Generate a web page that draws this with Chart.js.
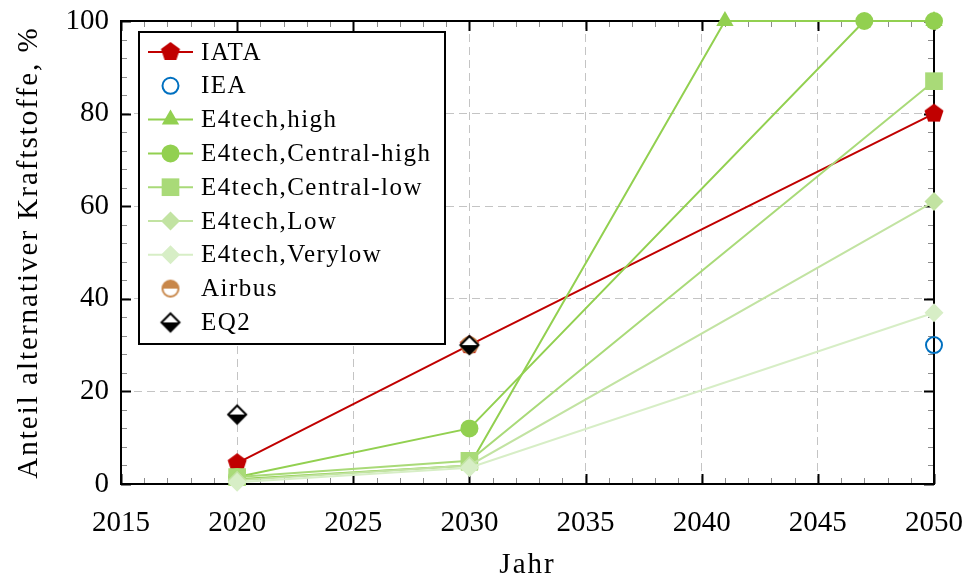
<!DOCTYPE html>
<html>
<head>
<meta charset="utf-8">
<script src="https://cdn.jsdelivr.net/npm/chart.js@4.4.1/dist/chart.umd.min.js"></script>
<style>
  html, body { margin: 0; background: #fff; }
  #wrap { position: relative; width: 968px; height: 581px; }
</style>
</head>
<body>
<div id="wrap"><canvas id="chart"></canvas></div>
<script>
// Anteil alternativer Kraftstoffe je Szenario (in %)
var YEARS           = [2020, 2030, 2041, 2047, 2050];
var IATA            = [4.5,  30,   null, null, 80];
var IEA             = [null, null, null, null, 30];
var E4_HIGH         = [1,    4,    100,  null, 100];
var E4_CENTRAL_HIGH = [1.5,  12,   null, 100,  100];
var E4_CENTRAL_LOW  = [1.5,  5,    null, null, 87];
var E4_LOW          = [0.8,  4,    null, null, 61];
var E4_VERYLOW      = [0.4,  3.5,  null, null, 37];
var AIRBUS          = [null, 30,   null, null, null];
var EQ2             = [15,   30,   null, null, null];

var X_TITLE = 'Jahr';
var Y_TITLE = 'Anteil alternativer Kraftstoffe, %';

var SERIF = '"Liberation Serif", "DejaVu Serif", serif';

// small canvases used as point styles for the marks Chart.js has no shape for
function markCanvas(draw) {
  var c = document.createElement('canvas');
  c.width = 28; c.height = 28;
  var g = c.getContext('2d');
  g.translate(14, 14);
  draw(g);
  return c;
}

var PENTAGON = markCanvas(function(g) {
  g.beginPath();
  for (var i = 0; i < 5; i++) {
    var a = -Math.PI / 2 + i * 2 * Math.PI / 5;
    g.lineTo(10 * Math.cos(a), 10 * Math.sin(a));
  }
  g.closePath();
  g.fillStyle = '#C00000';
  g.fill();
});

var HALF_CIRCLE = markCanvas(function(g) {
  var r = 8;
  g.fillStyle = '#fff';
  g.beginPath(); g.arc(0, 0, r, 0, 2 * Math.PI); g.fill();
  g.fillStyle = '#C8874A';
  g.beginPath(); g.arc(0, 0, r, Math.PI, 2 * Math.PI); g.closePath(); g.fill();
  g.strokeStyle = '#C8874A'; g.lineWidth = 2;
  g.beginPath(); g.arc(0, 0, r, 0, 2 * Math.PI); g.stroke();
});

var HALF_DIAMOND = markCanvas(function(g) {
  var r = 9;
  g.fillStyle = '#fff';
  g.beginPath(); g.moveTo(0, -r); g.lineTo(r, 0); g.lineTo(-r, 0); g.closePath(); g.fill();
  g.fillStyle = '#000';
  g.beginPath(); g.moveTo(-r, 0); g.lineTo(r, 0); g.lineTo(0, r); g.closePath(); g.fill();
  g.strokeStyle = '#000'; g.lineWidth = 2; g.lineJoin = 'miter';
  g.beginPath(); g.moveTo(0, -r); g.lineTo(r, 0); g.lineTo(0, r); g.lineTo(-r, 0); g.closePath(); g.stroke();
});

var SERIES = [
  { label: 'IATA',                values: IATA,            color: '#C00000', style: PENTAGON,     radius: 10, line: true },
  { label: 'IEA',                 values: IEA,             color: '#0070C0', style: 'circle',     radius: 8,  line: false, open: true },
  { label: 'E4tech,high',         values: E4_HIGH,         color: '#92D050', style: 'triangle',   radius: 10, line: true },
  { label: 'E4tech,Central-high', values: E4_CENTRAL_HIGH, color: '#92D050', style: 'circle',     radius: 9,  line: true },
  { label: 'E4tech,Central-low',  values: E4_CENTRAL_LOW,  color: '#A9DA78', style: 'rect',       radius: 12.5, line: true },
  { label: 'E4tech,Low',          values: E4_LOW,          color: '#C2E3A2', style: 'rectRot',    radius: 9.5, line: true },
  { label: 'E4tech,Verylow',      values: E4_VERYLOW,      color: '#D7EEC6', style: 'rectRot',    radius: 9.5, line: true },
  { label: 'Airbus',              values: AIRBUS,          color: '#C8874A', style: HALF_CIRCLE,  radius: 9,  line: false },
  { label: 'EQ2',                 values: EQ2,             color: '#000000', style: HALF_DIAMOND, radius: 9,  line: false }
];

var datasets = SERIES.map(function(s, i) {
  return {
    label: s.label,
    data: YEARS.map(function(x, k) { return { x: x, y: s.values[k] }; })
               .filter(function(p) { return p.y !== null; }),
    borderColor: s.color,
    backgroundColor: s.color,
    borderWidth: 2,
    showLine: s.line,
    pointStyle: s.style,
    pointRadius: s.radius,
    pointBackgroundColor: s.open ? 'rgba(0,0,0,0)' : s.color,
    pointBorderColor: s.color,
    pointBorderWidth: s.open ? 2 : 0,
    tension: 0,
    clip: false,
    order: SERIES.length - i   // later series sit on top
  };
});

// inward ticks on all four sides, the frame, axis titles and the boxed legend
var framePlugin = {
  id: 'frame',
  beforeDatasetsDraw: function(chart) {
    var ctx = chart.ctx, a = chart.chartArea;
    var xs = chart.scales.x, ys = chart.scales.y;
    ctx.save();
    for (var yr = 2015; yr <= 2050; yr++) {
      var major = yr % 5 === 0;
      var px = Math.round(xs.getPixelForValue(yr)) + 0.5;
      var len = major ? 10 : 6;
      ctx.strokeStyle = major ? '#000' : '#8c8c8c';
      ctx.lineWidth = major ? 2 : 1;
      ctx.beginPath();
      ctx.moveTo(px, a.bottom); ctx.lineTo(px, a.bottom - len);
      ctx.moveTo(px, a.top); ctx.lineTo(px, a.top + len);
      ctx.stroke();
    }
    for (var v = 0; v <= 100; v += 4) {
      var maj = v % 20 === 0;
      var py = Math.round(ys.getPixelForValue(v)) + 0.5;
      var l = maj ? 10 : 6;
      ctx.strokeStyle = maj ? '#000' : '#8c8c8c';
      ctx.lineWidth = maj ? 2 : 1;
      ctx.beginPath();
      ctx.moveTo(a.left, py); ctx.lineTo(a.left + l, py);
      ctx.moveTo(a.right, py); ctx.lineTo(a.right - l, py);
      ctx.stroke();
    }
    ctx.strokeStyle = '#000';
    ctx.lineWidth = 2;
    ctx.strokeRect(a.left, a.top, a.right - a.left, a.bottom - a.top);

    // axis titles
    ctx.fillStyle = '#000';
    ctx.font = '29px ' + SERIF;
    ctx.letterSpacing = '2px';
    ctx.textAlign = 'center';
    ctx.textBaseline = 'middle';
    ctx.fillText(X_TITLE, (a.left + a.right) / 2, 565);
    ctx.translate(29, (a.top + a.bottom) / 2);
    ctx.rotate(-Math.PI / 2);
    ctx.fillText(Y_TITLE, 0, 0);
    ctx.restore();
  },
  afterDatasetsDraw: function(chart) {
    var ctx = chart.ctx;
    var bx = 139, by = 32, bw = 306, bh = 312, step = 33.8;
    ctx.save();
    ctx.fillStyle = '#fff';
    ctx.fillRect(bx, by, bw, bh);
    ctx.strokeStyle = '#000';
    ctx.lineWidth = 2;
    ctx.strokeRect(bx, by, bw, bh);
    ctx.font = '25px ' + SERIF;
    ctx.letterSpacing = '1.5px';
    ctx.textBaseline = 'middle';
    chart.data.datasets.forEach(function(ds, i) {
      var cy = by + 20 + i * step;
      if (ds.showLine) {
        ctx.strokeStyle = ds.borderColor;
        ctx.lineWidth = 2;
        ctx.beginPath(); ctx.moveTo(148, cy); ctx.lineTo(193, cy); ctx.stroke();
      }
      ctx.fillStyle = ds.pointBackgroundColor;
      ctx.strokeStyle = ds.pointBorderColor;
      ctx.lineWidth = ds.pointBorderWidth;
      Chart.helpers.drawPoint(ctx, {
        pointStyle: ds.pointStyle, radius: ds.pointRadius, rotation: 0, borderWidth: ds.pointBorderWidth
      }, 170.5, cy);
      ctx.fillStyle = '#000';
      ctx.fillText(ds.label, 201, cy + 1);
    });
    ctx.restore();
  }
};

function innerGrid(min, max) {
  return function(c) {
    var v = c.tick.value;
    return (v === min || v === max) ? 'rgba(0,0,0,0)' : '#c4c4c4';
  };
}

// fixed axis boxes, with no extra room reserved for overhanging end labels
function fixBox(w, h) {
  return function(s) {
    if (w) s.width = w;
    if (h) s.height = h;
    s.paddingLeft = s.paddingRight = s.paddingTop = s.paddingBottom = 0;
  };
}

new Chart(document.getElementById('chart'), {
  type: 'line',
  data: { datasets: datasets },
  plugins: [framePlugin],
  options: {
    responsive: true,
    maintainAspectRatio: false,
    animation: false,
    layout: { padding: { top: 21, right: 34, left: 0, bottom: 0 } },
    plugins: { legend: { display: false }, tooltip: { enabled: false } },
    scales: {
      x: {
        type: 'linear',
        min: 2015, max: 2050,
        afterFit: fixBox(0, 97),
        ticks: { stepSize: 5, color: '#000', padding: 22, font: { family: SERIF, size: 29 },
                 callback: function(v) { return String(v); } },
        grid: { color: innerGrid(2015, 2050), lineWidth: 1, drawTicks: false },
        border: { display: false, dash: [8, 5] }
      },
      y: {
        min: 0, max: 100,
        afterFit: fixBox(121, 0),
        ticks: { stepSize: 20, color: '#000', padding: 12, font: { family: SERIF, size: 29 } },
        grid: { color: innerGrid(0, 100), lineWidth: 1, drawTicks: false },
        border: { display: false, dash: [8, 5] }
      }
    }
  }
});
</script>
</body>
</html>
